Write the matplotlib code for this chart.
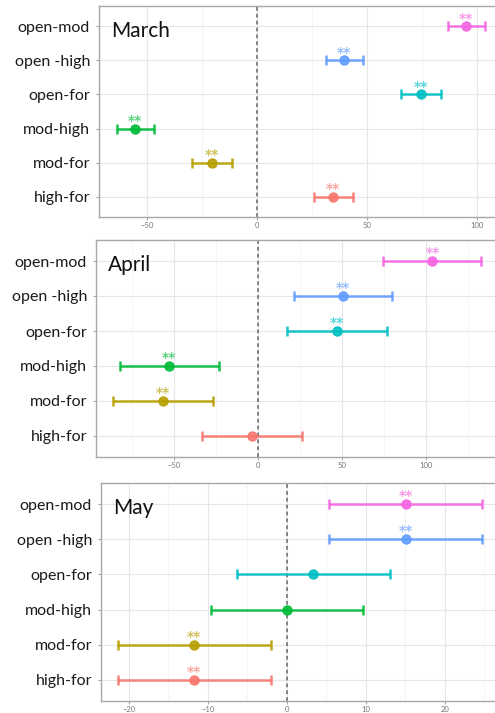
import numpy as np
import matplotlib
matplotlib.use("Agg")
import matplotlib.pyplot as plt
from matplotlib.ticker import MultipleLocator

plt.rcParams['font.family'] = ['Lato', 'DejaVu Sans']

# categories, bottom to top
labels = ["high-for", "mod-for", "mod-high", "open-for", "open -high", "open-mod"]
colors = ["#F8766D", "#B79F00", "#00BA38", "#00BFC4", "#619CFF", "#F564E3"]

months = ["March", "April", "May"]

march_est = [34.7, -20.6, -55.5, 74.4, 39.6, 95.0]
march_lo = [25.8, -29.5, -63.8, 65.5, 31.4, 86.8]
march_hi = [43.8, -11.5, -46.7, 83.5, 48.0, 103.6]
march_sig = [True, True, True, True, True, True]

april_est = [-3.4, -56.4, -52.8, 46.8, 50.8, 103.8]
april_lo = [-33.3, -86.0, -82.0, 17.0, 21.4, 74.6]
april_hi = [26.4, -26.6, -23.4, 76.6, 80.0, 133.0]
april_sig = [False, True, True, True, True, True]

may_est = [-11.7, -11.7, 0.0, 3.3, 15.1, 15.1]
may_lo = [-21.4, -21.4, -9.6, -6.3, 5.4, 5.4]
may_hi = [-2.0, -2.0, 9.7, 13.0, 24.7, 24.7]
may_sig = [True, True, False, False, True, True]

W, H = 495, 713
fig = plt.figure(figsize=(W / 100, H / 100), dpi=100)

# panel boxes in pixels: left, top, right, bottom ; x limits ; major/minor step
panels = [
    (99, 6, 505, 217, (-71.8, 112.7), 50, 25, march_est, march_lo, march_hi, march_sig),
    (96, 240, 505, 457, (-96.4, 147.0), 50, 25, april_est, april_lo, april_hi, april_sig),
    (101, 483, 505, 701, (-23.5, 27.6), 10, 5, may_est, may_lo, may_hi, may_sig),
]

for name, (l, t, r, b, xl, maj, mnr, est, lo, hi, sig) in zip(months, panels):
    ax = fig.add_axes([l / W, 1 - b / H, (r - l) / W, (b - t) / H])
    ax.set_xlim(*xl)
    ax.set_ylim(-0.6, 5.6)
    ax.xaxis.set_major_locator(MultipleLocator(maj))
    ax.xaxis.set_minor_locator(MultipleLocator(mnr))
    ax.grid(which="major", color="#e6e6e6", lw=0.8)
    ax.grid(which="minor", axis="x", color="#f2f2f2", lw=0.6)
    ax.set_axisbelow(True)
    for s in ax.spines.values():
        s.set_color("#a8a8a8")
        s.set_linewidth(1.0)
    ax.axvline(0, color="#666666", ls=(0, (2.5, 2)), lw=1.1, zorder=1)
    y = np.arange(len(labels))
    for i in range(len(labels)):
        ax.errorbar(est[i], y[i], xerr=[[est[i] - lo[i]], [hi[i] - est[i]]],
                    fmt="o", color=colors[i], ms=6.5, lw=1.8, capsize=3.5,
                    capthick=1.8, alpha=0.9, zorder=3)
        if sig[i]:
            ax.text(est[i], y[i] + 0.23, "**", color=colors[i], alpha=0.65,
                    ha="center", va="center", fontsize=10, fontweight="bold",
                    family="DejaVu Sans")
    ax.set_yticks(y)
    ax.set_yticklabels(labels, fontsize=11.5, color="#1a1a1a")
    ax.tick_params(axis="y", length=2.5, color="#a8a8a8", pad=4)
    ax.tick_params(axis="x", which="major", length=2.5, color="#a8a8a8",
                   labelsize=5.5, labelcolor="#777777", pad=1)
    ax.tick_params(axis="x", which="minor", length=0)
    ax.text(0.03, 0.93, name, transform=ax.transAxes, fontsize=15,
            ha="left", va="top", color="#111111")

fig.savefig("out.png", dpi=100)
